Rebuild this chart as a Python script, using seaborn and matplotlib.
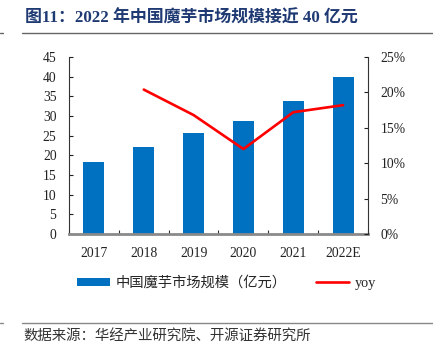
import matplotlib
matplotlib.use("Agg")
import matplotlib.pyplot as plt
import seaborn as sns
import pandas as pd
import numpy as np
from matplotlib.ticker import FuncFormatter, MultipleLocator, FixedLocator
from matplotlib.lines import Line2D
from matplotlib.patches import Patch

years = ["2017", "2018", "2019", "2020", "2021", "2022E"]
market = [18.2, 22.0, 25.7, 28.8, 33.8, 39.9]
yoy_years = ["2018", "2019", "2020", "2021", "2022E"]
yoy = [20.4, 16.8, 12.0, 17.2, 18.2]

title = "图11：2022 年中国魔芋市场规模接近 40 亿元"
bar_label = "中国魔芋市场规模（亿元）"
line_label = "yoy"
source = "数据来源：华经产业研究院、开源证券研究所"

sns.set_style("ticks")
fam = ["Liberation Serif", "Noto Sans CJK SC", "DejaVu Sans"]
plt.rcParams["font.family"] = fam

fig = plt.figure(figsize=(4.33, 3.51), dpi=100)
ax = fig.add_axes([69/433, 1-234/351, (368-69)/433, (234-57)/351])

df_bar = pd.DataFrame({"year": years, "value": market})
df_line = pd.DataFrame({"year": yoy_years, "yoy": yoy})

sns.barplot(data=df_bar, x="year", y="value", order=years, color="#0070C0",
            width=0.42, ax=ax, saturation=1, linewidth=0)
ax2 = ax.twinx()
sns.pointplot(data=df_line, x="year", y="yoy", order=years, color="#FF0000",
              markers="", linestyles="-", ax=ax2, linewidth=1.9, errorbar=None)

ax.set_xlim(-0.5, 5.5)
ax2.set_xlim(-0.5, 5.5)
ax.set_ylim(0, 45)
ax2.set_ylim(0, 25)
ax.yaxis.set_major_locator(MultipleLocator(5))
ax2.yaxis.set_major_locator(MultipleLocator(5))
ax2.yaxis.set_major_formatter(FuncFormatter(lambda v, p: f"{v:.0f}%"))
ax.set_xlabel("")
ax.set_ylabel("")
ax2.set_xlabel("")
ax2.set_ylabel("")

ax.xaxis.set_minor_locator(FixedLocator(np.arange(-0.5, 6.0, 1.0)))
ax.tick_params(axis="x", which="major", length=0, pad=9.5, labelsize=9.8, colors="#222222")
ax.tick_params(axis="x", which="minor", direction="in", length=3, width=0.8, color="#333333")
ax.tick_params(axis="y", direction="in", length=3, width=0.8, pad=9, labelsize=9.8,
               colors="#222222")
ax2.tick_params(axis="y", direction="in", length=3, width=0.8, pad=9, labelsize=9.8,
                colors="#222222")

for a in (ax, ax2):
    a.spines["top"].set_visible(False)
    a.grid(False)
ax.spines["right"].set_visible(False)
ax2.spines["left"].set_visible(False)
ax2.spines["bottom"].set_visible(False)
ax.spines["left"].set_color("#333333")
ax.spines["left"].set_linewidth(0.8)
ax2.spines["right"].set_color("#333333")
ax2.spines["right"].set_linewidth(0.8)
ax.spines["bottom"].set_color("#8a8a8a")
ax.spines["bottom"].set_linewidth(2.0)
ax.set_zorder(1)
ax2.set_zorder(2)
ax.patch.set_visible(False)

handles = [Patch(facecolor="#0070C0", edgecolor="none", label=bar_label),
           Line2D([0], [0], color="#FF0000", lw=1.9, label=line_label)]
fig.legend(handles=handles, loc="center", bbox_to_anchor=(0.523, 1-283/351),
           ncol=2, frameon=False, fontsize=10.3, handlelength=2.3, handleheight=0.55,
           handletextpad=0.4, columnspacing=2.1)

fig.text(25/433, 1-18/351, title, fontsize=12.2, fontweight="bold", color="#1F3A73",
         va="center", ha="left")
fig.add_artist(Line2D([22/433, 1], [1-33/351, 1-33/351], color="#666666", lw=1.0))
fig.add_artist(Line2D([0, 3/433], [1-33/351, 1-33/351], color="#666666", lw=1.0))
fig.add_artist(Line2D([22/433, 1], [1-323/351, 1-323/351], color="#888888", lw=1.0))
fig.add_artist(Line2D([0, 3/433], [1-323/351, 1-323/351], color="#888888", lw=1.0))
fig.text(23/433, 1-337/351, source, fontsize=10.4, color="#333333", va="center", ha="left")

fig.savefig("out.png", dpi=100)
